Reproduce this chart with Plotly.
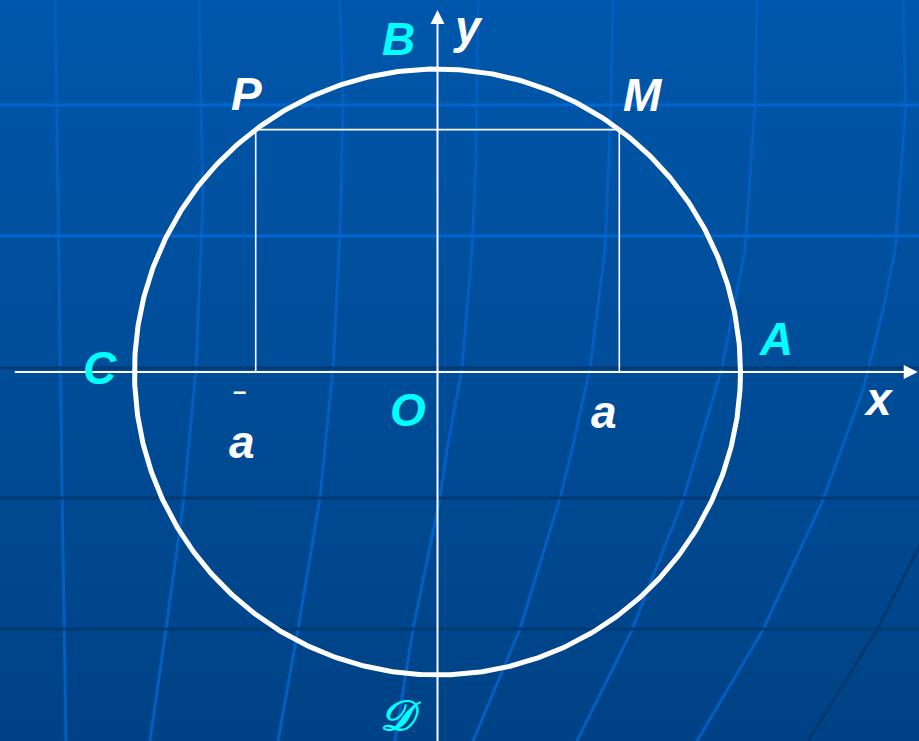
import base64
import numpy as np
import plotly.graph_objects as go

# ---- geometry data (unit circle, math units) ----
radius = 1.0
a_value = 0.6
m_height = float(np.sqrt(radius**2 - a_value**2))

# axis extents (math units)
x_axis_start, x_axis_end = -1.40, 1.585
y_axis_start, y_axis_end = -1.25, 1.195

# labels: text, x, y, colour
label_text = ["B", "y", "P", "M", "C", "A", "x", "O", "a", "–", "a", "𝒟"]
label_x = [-0.13, 0.10, -0.63, 0.678, -1.113, 1.117, 1.454, -0.097, 0.550, -0.655, -0.645, -0.12]
label_y = [1.10, 1.14, 0.917, 0.914, 0.013, 0.108, -0.09, -0.125, -0.133, -0.06, -0.23, -1.135]
label_color = ["#00FFFF", "#FFFFFF", "#FFFFFF", "#FFFFFF", "#00FFFF", "#00FFFF",
               "#FFFFFF", "#00FFFF", "#FFFFFF", "#FFFFFF", "#FFFFFF", "#00FFFF"]

W, H = 919, 741
scale = 303.0
cx_px, cy_px = 437.5, 372.0
x_range = [-cx_px / scale, (W - cx_px) / scale]
y_range = [-(H - cy_px) / scale, cy_px / scale]

# ---- decorative background (gradient + faint grid curves, pixel space) ----
light_h = [105, 236]
dark_h = [368, 498, 629]
light_curves = [
    [(55, 0), (58, 200), (63, 550), (66, 741)],
    [(199, 0), (203, 200), (196, 368), (184, 498), (166, 629), (150, 741)],
    [(340, 0), (343, 105), (340, 235), (333, 368), (320, 498), (298, 629), (278, 741)],
    [(478, 0), (476, 160), (472, 250), (462, 368), (447, 450), (440, 498), (413, 629), (395, 741)],
    [(613, 0), (611, 105), (605, 250), (590, 368), (572, 450), (560, 498), (520, 629), (473, 741)],
    [(757, 0), (755, 105), (745, 250), (722, 368), (683, 500), (632, 630), (577, 741)],
    [(903, 0), (906, 105), (895, 250), (883, 310), (863, 390), (823, 500), (763, 630), (697, 741)],
]
dark_curves = [
    [(940, 500), (919, 547), (877, 630), (808, 741)],
]

def pts(c):
    return " ".join(f"{x},{y}" for x, y in c)

svg = [f'<svg xmlns="http://www.w3.org/2000/svg" width="{W}" height="{H}" viewBox="0 0 {W} {H}">',
       '<defs><linearGradient id="g" x1="0" y1="0" x2="0" y2="1">'
       '<stop offset="0" stop-color="#0057AB"/><stop offset="1" stop-color="#004285"/>'
       '</linearGradient></defs>',
       f'<rect x="0" y="0" width="{W}" height="{H}" fill="url(#g)"/>']
for c in light_curves:
    svg.append(f'<polyline points="{pts(c)}" fill="none" stroke="#005FC0" stroke-width="3"/>')
for c in dark_curves:
    svg.append(f'<polyline points="{pts(c)}" fill="none" stroke="#00396F" stroke-width="3"/>')
for yy in light_h:
    svg.append(f'<line x1="0" y1="{yy}" x2="{W}" y2="{yy}" stroke="#0066CF" stroke-width="3"/>')
for yy in dark_h:
    svg.append(f'<line x1="0" y1="{yy}" x2="{W}" y2="{yy}" stroke="#003A74" stroke-width="3"/>')
svg.append('</svg>')
bg_uri = "data:image/svg+xml;base64," + base64.b64encode("".join(svg).encode()).decode()

fig = go.Figure()

# circle
theta = np.linspace(0, 2 * np.pi, 721)
fig.add_trace(go.Scatter(x=radius * np.cos(theta), y=radius * np.sin(theta), mode="lines",
                         line=dict(color="white", width=5), hoverinfo="skip", showlegend=False))
# rectangle P-M
fig.add_trace(go.Scatter(x=[-a_value, -a_value, a_value, a_value], y=[0, m_height, m_height, 0],
                         mode="lines", line=dict(color="white", width=1.6),
                         hoverinfo="skip", showlegend=False))

annotations = []
# axes with arrows
annotations.append(dict(x=x_axis_end, y=0, ax=x_axis_start, ay=0, xref="x", yref="y",
                        axref="x", ayref="y", showarrow=True, arrowhead=2, arrowsize=1.4,
                        arrowwidth=2, arrowcolor="white", text=""))
annotations.append(dict(x=0, y=y_axis_end, ax=0, ay=y_axis_start, xref="x", yref="y",
                        axref="x", ayref="y", showarrow=True, arrowhead=2, arrowsize=1.4,
                        arrowwidth=2, arrowcolor="white", text=""))

for t, x, y, col in zip(label_text, label_x, label_y, label_color):
    if t == "𝒟":
        font = dict(family="DejaVu Serif", size=42, color=col, style="italic", weight="bold")
    elif t == "–":
        font = dict(family="Liberation Sans, Arial", size=24, color=col, weight="bold")
    else:
        font = dict(family="Liberation Sans, Arial", size=46, color=col,
                    weight="bold", style="italic")
    annotations.append(dict(x=x, y=y, xref="x", yref="y", text=t, showarrow=False,
                            font=font, xanchor="center", yanchor="middle"))

fig.update_layout(
    width=W, height=H, margin=dict(l=0, r=0, t=0, b=0),
    paper_bgcolor="#004C98", plot_bgcolor="rgba(0,0,0,0)",
    xaxis=dict(range=x_range, visible=False, fixedrange=True),
    yaxis=dict(range=y_range, visible=False, fixedrange=True),
    annotations=annotations,
    images=[dict(source=bg_uri, xref="paper", yref="paper", x=0, y=1, sizex=1, sizey=1,
                 xanchor="left", yanchor="top", sizing="stretch", layer="below")],
    showlegend=False,
)

fig.write_html("out.html", config={"displayModeBar": False},
               post_script="document.body.style.margin='0';document.body.style.padding='0';")
